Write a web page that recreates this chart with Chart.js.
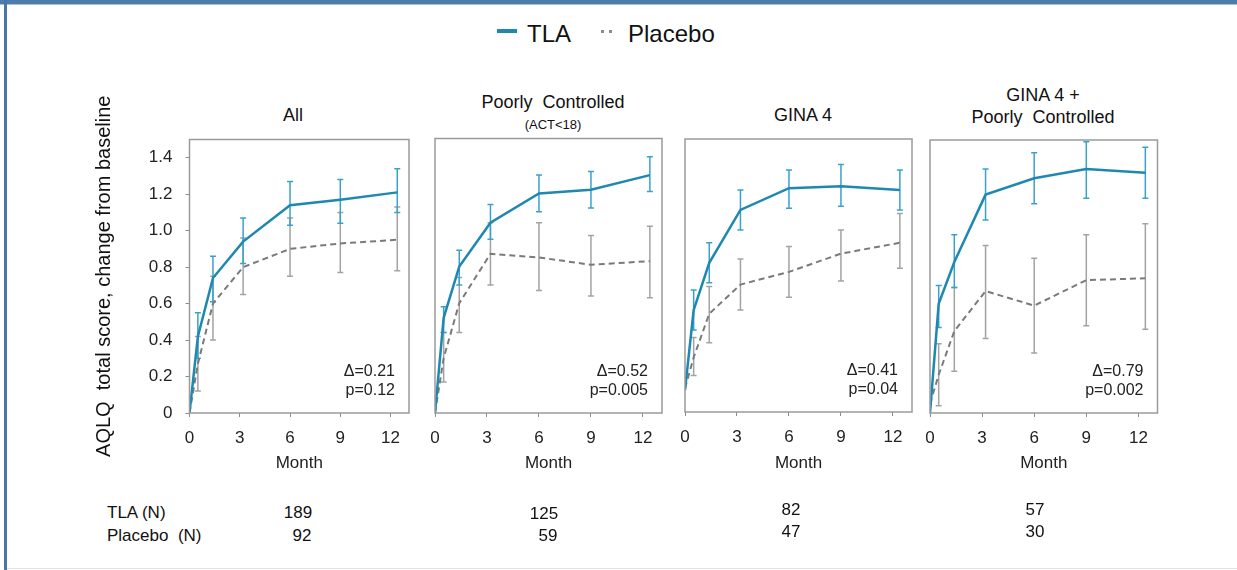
<!DOCTYPE html>
<html lang="en">
<head>
<meta charset="UTF-8">
<title>AQLQ change from baseline</title>
<script src="https://cdn.jsdelivr.net/npm/chart.js"></script>
<style>
  body { margin:0; width:1237px; height:570px; position:relative; background:#fff; overflow:hidden;
         font-family:'Liberation Sans', Arial, sans-serif; color:#111; }
  .frameTop { position:absolute; left:0; top:0; width:1237px; height:4px; background:#4d7cab; border-bottom:1px solid #a9c1db; }
  .frameLeft { position:absolute; left:4px; top:0; width:3px; height:570px; background:#4a77a6; }
  .frameBottom { position:absolute; left:7px; top:568px; width:1230px; height:1px; background:#e2e2e2; }
  canvas { position:absolute; }
  .t { position:absolute; white-space:nowrap; transform:translate(-50%,-50%); }
  .l { position:absolute; white-space:nowrap; transform:translate(0,-50%); }
</style>
</head>
<body>
<div class="frameTop"></div>
<div class="frameLeft"></div>
<div class="frameBottom"></div>

<!-- legend -->
<div style="position:absolute;left:497px;top:29px;width:20px;height:4px;background:#1f88b0"></div>
<div class="l" style="left:527px;top:34px;font-size:24px">TLA</div>
<div style="position:absolute;left:601px;top:30px;width:3px;height:3px;background:#8a8a8a"></div>
<div style="position:absolute;left:609px;top:30px;width:3px;height:3px;background:#8a8a8a"></div>
<div class="l" style="left:628px;top:34px;font-size:24px">Placebo</div>

<!-- panel titles -->
<div class="t" style="left:293px;top:115px;font-size:18px">All</div>
<div class="t" style="left:553px;top:102px;font-size:18px">Poorly&nbsp; Controlled</div>
<div class="t" style="left:553px;top:124px;font-size:13px">(ACT&lt;18)</div>
<div class="t" style="left:803px;top:115px;font-size:18px">GINA 4</div>
<div class="t" style="left:1043px;top:95px;font-size:18px">GINA 4 +</div>
<div class="t" style="left:1043px;top:117px;font-size:18px">Poorly&nbsp; Controlled</div>

<canvas id="c1"></canvas>
<canvas id="c2"></canvas>
<canvas id="c3"></canvas>
<canvas id="c4"></canvas>

<!-- N table -->
<div id="ntable"></div>

<script>
// ---- data ----
const months = [0, 0.5, 1.4, 3.2, 6, 9, 12.4];
const xTicks = [0, 3, 6, 9, 12];
const yTicks = [0, 0.2, 0.4, 0.6, 0.8, 1.0, 1.2, 1.4];

const tlaAll   = [0, 0.42, 0.74, 0.94, 1.14, 1.17, 1.21];
const tlaAllLo = [null, 0.30, 0.61, 0.82, 1.03, 1.04, 1.10];
const tlaAllHi = [null, 0.55, 0.86, 1.07, 1.27, 1.28, 1.34];
const plaAll   = [0, 0.27, 0.60, 0.80, 0.90, 0.93, 0.95];
const plaAllLo = [null, 0.12, 0.40, 0.65, 0.75, 0.77, 0.78];
const plaAllHi = [null, 0.42, 0.75, 0.96, 1.07, 1.10, 1.13];

const tlaPoor   = [0, 0.52, 0.80, 1.04, 1.20, 1.22, 1.30];
const tlaPoorLo = [null, 0.44, 0.70, 0.95, 1.10, 1.12, 1.21];
const tlaPoorHi = [null, 0.58, 0.89, 1.14, 1.30, 1.32, 1.40];
const plaPoor   = [0, 0.30, 0.60, 0.87, 0.85, 0.81, 0.83];
const plaPoorLo = [null, 0.17, 0.44, 0.70, 0.67, 0.64, 0.63];
const plaPoorHi = [null, 0.44, 0.74, 1.04, 1.04, 0.97, 1.02];

const tlaGina   = [0.12, 0.56, 0.82, 1.11, 1.23, 1.24, 1.22];
const tlaGinaLo = [null, 0.45, 0.71, 1.00, 1.12, 1.13, 1.11];
const tlaGinaHi = [null, 0.67, 0.93, 1.22, 1.33, 1.36, 1.33];
const plaGina   = [0.13, 0.30, 0.54, 0.70, 0.77, 0.87, 0.93];
const plaGinaLo = [null, 0.20, 0.38, 0.56, 0.63, 0.72, 0.79];
const plaGinaHi = [null, 0.41, 0.69, 0.84, 0.91, 1.00, 1.09];

const tlaBoth   = [0, 0.60, 0.83, 1.20, 1.29, 1.34, 1.32];
const tlaBothLo = [null, 0.47, 0.69, 1.06, 1.15, 1.18, 1.18];
const tlaBothHi = [null, 0.70, 0.98, 1.34, 1.43, 1.49, 1.46];
const plaBoth   = [0.05, 0.21, 0.45, 0.67, 0.59, 0.73, 0.74];
const plaBothLo = [null, 0.04, 0.23, 0.41, 0.33, 0.48, 0.46];
const plaBothHi = [null, 0.38, 0.69, 0.92, 0.85, 0.98, 1.04];

const deltas = ['0.21', '0.52', '0.41', '0.79'];
const pvals  = ['0.12', '0.005', '0.04', '0.002'];
const nTla     = [189, 125, 82, 57];
const nPlacebo = [92, 59, 47, 30];

// ---- style ----
const FONT = "'Liberation Sans', Arial, sans-serif";
const TLA_COLOR = '#1f88b0';
const TLA_ERR = '#3aa2c9';
const PLA_COLOR = '#7a7a7a';
const PLA_ERR = '#a3a3a3';

// error bars, panel frame and delta / p text
const extras = {
  id: 'extras',
  beforeDatasetsDraw(chart, args, opts) {
    const {ctx, scales: {x, y}} = chart;
    ctx.save();
    opts.bars.forEach(b => {
      ctx.strokeStyle = b.color;
      ctx.lineWidth = 1.5;
      months.forEach((m, i) => {
        if (b.lo[i] == null) return;
        const px = x.getPixelForValue(m);
        const y1 = y.getPixelForValue(b.lo[i]);
        const y2 = y.getPixelForValue(b.hi[i]);
        ctx.beginPath();
        ctx.moveTo(px, y1); ctx.lineTo(px, y2);
        ctx.moveTo(px - 3, y1); ctx.lineTo(px + 3, y1);
        ctx.moveTo(px - 3, y2); ctx.lineTo(px + 3, y2);
        ctx.stroke();
      });
    });
    ctx.restore();
  },
  afterDraw(chart, args, opts) {
    const {ctx, chartArea: a} = chart;
    ctx.save();
    ctx.strokeStyle = '#9a9a9a';
    ctx.lineWidth = 1.5;
    ctx.strokeRect(a.left, a.top, a.right - a.left, a.bottom - a.top);
    ctx.fillStyle = '#222';
    ctx.font = '16px ' + FONT;
    ctx.textAlign = 'right';
    ctx.textBaseline = 'middle';
    ctx.fillText('\u0394=' + opts.delta, a.right - 14, a.bottom - 41);
    ctx.fillText('p=' + opts.p, a.right - 14, a.bottom - 22);
    ctx.restore();
  }
};

// L = canvas left; the y axis box always spans from L to the plot's left edge
function makePanel(id, L, area, tla, tlaLo, tlaHi, pla, plaLo, plaHi, k, showY) {
  const cv = document.getElementById(id);
  const W = Math.round(area.r - L + 14);
  cv.width = W; cv.height = 410;
  cv.style.left = L + 'px'; cv.style.top = '80px';
  return new Chart(cv, {
    type: 'line',
    data: {
      labels: months,
      datasets: [
        { label: 'TLA', data: months.map((m, i) => ({x: m, y: tla[i]})),
          borderColor: TLA_COLOR, borderWidth: 2.5, pointRadius: 0, tension: 0, fill: false },
        { label: 'Placebo', data: months.map((m, i) => ({x: m, y: pla[i]})),
          borderColor: PLA_COLOR, borderWidth: 2, borderDash: [6, 4], pointRadius: 0, tension: 0, fill: false }
      ]
    },
    options: {
      responsive: false,
      animation: false,
      layout: { padding: { left: 0, top: area.t - 80, right: L + W - area.r, bottom: 0 } },
      plugins: {
        legend: { display: false },
        tooltip: { enabled: false },
        extras: {
          bars: [{lo: plaLo, hi: plaHi, color: PLA_ERR}, {lo: tlaLo, hi: tlaHi, color: TLA_ERR}],
          delta: deltas[k], p: pvals[k]
        }
      },
      scales: {
        x: {
          type: 'linear', min: 0, max: 13.1,
          afterBuildTicks: ax => { ax.ticks = xTicks.map(v => ({value: v})); },
          afterFit: ax => { ax.height = 490 - area.b; },
          grid: { drawOnChartArea: false, drawTicks: true, tickLength: 4, color: '#8a8a8a' },
          border: { display: false },
          ticks: { font: {size: 17, family: FONT}, color: '#222', padding: 11, maxRotation: 0 },
          title: { display: true, text: 'Month', font: {size: 17, family: FONT}, color: '#222',
                   padding: {top: 0, bottom: 16} }
        },
        y: {
          min: 0, max: 1.5,
          afterBuildTicks: ax => { ax.ticks = yTicks.map(v => ({value: v})); },
          afterFit: ax => { ax.width = area.l - L; },
          grid: { drawOnChartArea: false, drawTicks: showY, tickLength: 4, color: '#8a8a8a' },
          border: { display: false },
          ticks: { display: showY, font: {size: 17, family: FONT}, color: '#222', padding: 13,
                   callback: v => v === 0 ? '0' : v.toFixed(1) },
          title: { display: showY, text: 'AQLQ  total score, change from baseline',
                   font: {size: 20, family: FONT}, color: '#111', padding: {top: 8, bottom: 0} }
        }
      }
    },
    plugins: [extras]
  });
}

makePanel('c1', 84, {l: 189.5, r: 409, t: 139.5, b: 413}, tlaAll, tlaAllLo, tlaAllHi, plaAll, plaAllLo, plaAllHi, 0, true);
makePanel('c2', 410, {l: 435, r: 662, t: 138.5, b: 413}, tlaPoor, tlaPoorLo, tlaPoorHi, plaPoor, plaPoorLo, plaPoorHi, 1, false);
makePanel('c3', 660, {l: 685, r: 912, t: 139, b: 412}, tlaGina, tlaGinaLo, tlaGinaHi, plaGina, plaGinaLo, plaGinaHi, 2, false);
makePanel('c4', 904.5, {l: 929.5, r: 1157, t: 140, b: 413}, tlaBoth, tlaBothLo, tlaBothHi, plaBoth, plaBothLo, plaBothHi, 3, false);

// N table
const nt = document.getElementById('ntable');
const colX = [[298, 302], [544, 548], [791, 791], [1035, 1035]];
const rowY = [[513, 536], [514, 536], [510, 532], [510, 532]];
let html = '<div class="l" style="left:107px;top:513px;font-size:17px">TLA (N)</div>' +
           '<div class="l" style="left:107px;top:536px;font-size:17px">Placebo&nbsp; (N)</div>';
nTla.forEach((n, i) => {
  html += `<div class="t" style="left:${colX[i][0]}px;top:${rowY[i][0]}px;font-size:17px">${n}</div>`;
  html += `<div class="t" style="left:${colX[i][1]}px;top:${rowY[i][1]}px;font-size:17px">${nPlacebo[i]}</div>`;
});
nt.innerHTML = html;
</script>
</body>
</html>
